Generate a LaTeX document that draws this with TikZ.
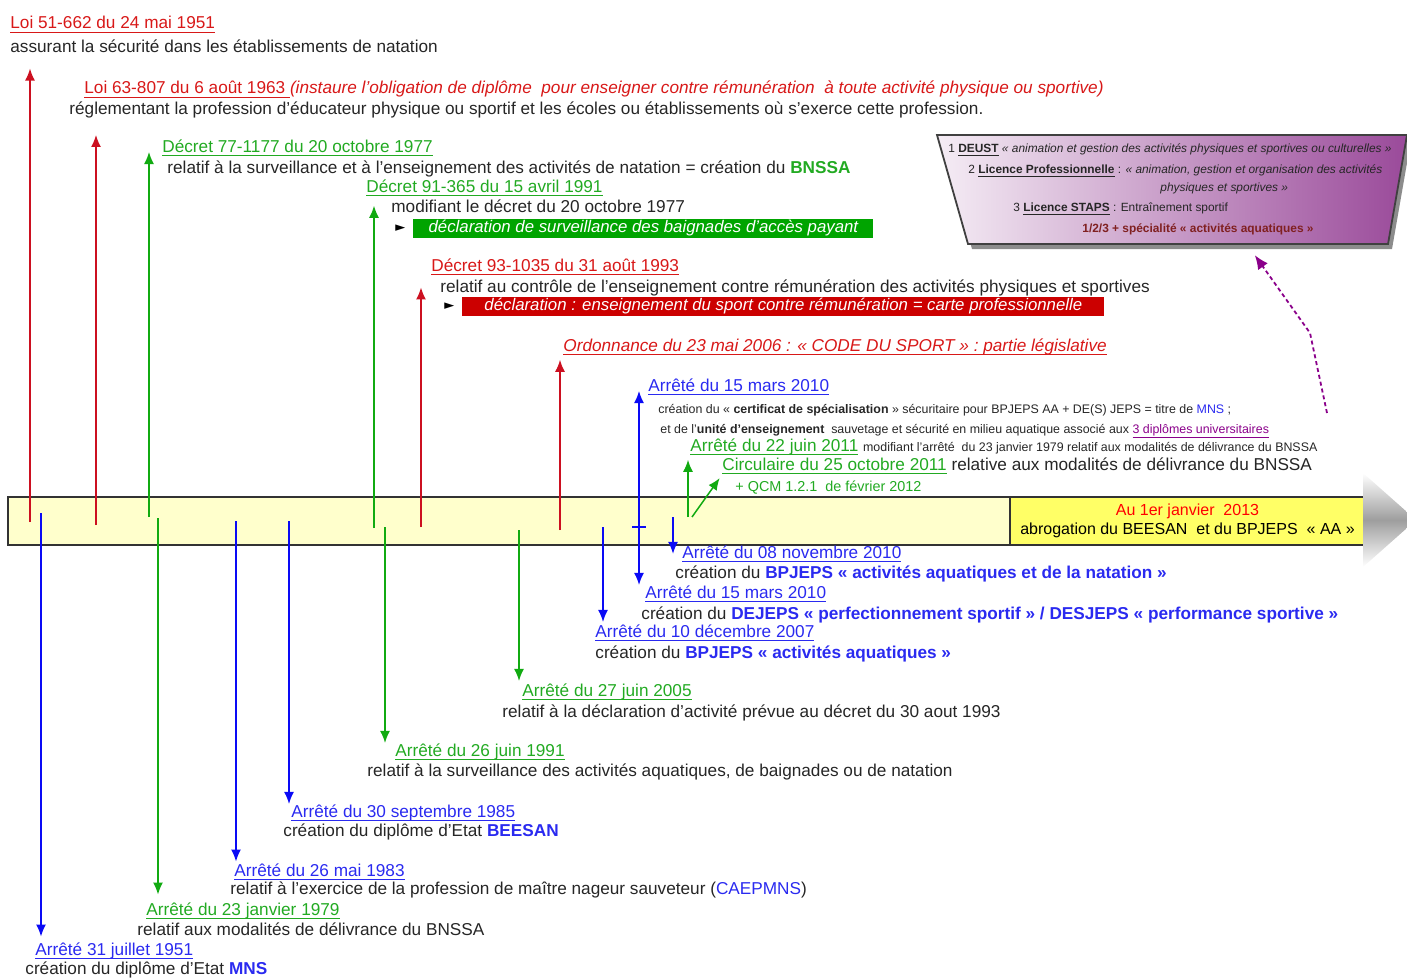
\documentclass[tikz,border=0pt]{standalone}
\usepackage{fontspec}
\setmainfont{Liberation Sans}
\newfontfamily\symfont{DejaVu Sans}
\usetikzlibrary{arrows.meta}
\newcommand{\souligne}[1]{\setbox0\hbox{#1}\leavevmode\rlap{\vrule height -1.5pt depth 2.2pt width \wd0}\box0\relax}
\definecolor{titred}{HTML}{D81818}
\definecolor{arred}{HTML}{CC1020}
\definecolor{titgrn}{HTML}{22AA22}
\definecolor{argrn}{HTML}{11AA11}
\definecolor{titblu}{HTML}{2A2AF0}
\definecolor{arblu}{HTML}{0A0AF5}
\definecolor{boxgrn}{HTML}{00A400}
\definecolor{boxred}{HTML}{CC0000}
\definecolor{barpale}{HTML}{FFFFCC}
\definecolor{baryel}{HTML}{FFFF66}
\definecolor{mauve}{HTML}{9A4A9A}
\definecolor{prune}{HTML}{8A008A}
\definecolor{brique}{HTML}{802020}
\begin{document}
\begin{tikzpicture}[x=0.5pt,y=-0.5pt,
  txt/.style={anchor=base west, inner sep=0pt, font=\fontsize{8.6}{10}\selectfont, text=black!85},
  petit/.style={txt, font=\fontsize{6.2}{7}\selectfont},
  mini/.style={txt, font=\fontsize{5.95}{7}\selectfont},
  tred/.style={txt, text=titred},
  tgrn/.style={txt, text=titgrn},
  tblu/.style={txt, text=titblu},
  tri/.style={anchor=west, inner sep=0pt, font=\symfont\fontsize{6.5}{7}\selectfont},
  flag/.style={anchor=west, inner sep=0pt, minimum height=9.5pt, text=white,
    font=\fontsize{8.4}{10}\selectfont\itshape},
  arr/.style={line width=0.75pt, -{Latex[length=6pt,width=5pt]}},
  upr/.style={arr, arred}, upg/.style={arr, argrn},
  dng/.style={arr, argrn}, dnb/.style={arr, arblu}]
\clip (0,0) rectangle (1407,979);
% timeline
\draw[line width=1pt, draw=black!80, fill=barpale] (8,497) rectangle (1010,545);
\node (abrog) [draw=black!80, line width=1pt, fill=baryel, minimum width=177.5pt,
  minimum height=24pt, inner sep=0pt, align=center, font=\fontsize{8}{9.5}\selectfont]
  at (1187.5,521) {\textcolor{red}{Au 1er janvier~ 2013}\\abrogation du BEESAN~ et du BPJEPS~ « AA »};
\shade[top color=white, bottom color=white, middle color=black!38]
  (1363,473) -- (1416,520) -- (1363,567) -- cycle;
% diplomes universitaires
\fill[black!45] (941,140) -- (1411,140) -- (1392,249) -- (972,249) -- cycle;
\shadedraw[left color=mauve!10, right color=mauve, draw=black!75, line width=0.9pt]
  (937,135) -- (1407,135) -- (1388,244) -- (968,244) -- cycle;
\coordinate (dipl) at (1249,247);
\node (du1) [mini] at (948,152) {1 \souligne{\textbf{DEUST}} \textit{« animation et gestion des activités physiques et sportives ou culturelles »}};
\node (du2) [mini] at (968,173) {2 \souligne{\textbf{Licence Professionnelle}} : \textit{« animation, gestion et organisation des activités}};
\node (du3) [mini] at (1160,191) {\textit{physiques et sportives »}};
\node (du4) [mini] at (1013,211) {3 \souligne{\textbf{Licence STAPS}} : Entraînement sportif};
\node (du5) [mini, text=brique] at (1082,232) {\textbf{1/2/3 + spécialité « activités aquatiques »}};
% textes au-dessus
\node (loi51) [tred] at (10,29) {\souligne{Loi 51-662 du 24 mai 1951}};
\node (loi51d) [txt] at (10,53) {assurant la sécurité dans les établissements de natation};
\node (loi63) [tred] at (84,94) {\souligne{Loi 63-807 du 6 août 1963~}\textit{(instaure l'obligation de diplôme~ pour enseigner contre rémunération~ à toute activité physique ou sportive)}};
\node (loi63d) [txt] at (69,114) {réglementant la profession d'éducateur physique ou sportif et les écoles ou établissements où s'exerce cette profession.};
\node (dec77) [tgrn] at (162,152) {\souligne{Décret 77-1177 du 20 octobre 1977}};
\node (dec77d) [txt] at (167,173) {relatif à la surveillance et à l'enseignement des activités de natation = création du \textcolor{titgrn}{\textbf{BNSSA}}};
\node (dec91) [tgrn] at (366,192) {\souligne{Décret 91-365 du 15 avril 1991}};
\node (dec91d) [txt] at (391,212) {modifiant le décret du 20 octobre 1977};
\node (tri91) [tri] at (395,228) {►};
\node (dec91b) [flag, fill=boxgrn, minimum width=230pt] at (413,228.5) {déclaration de surveillance des baignades d'accès payant};
\node (dec93) [tred] at (431,271) {\souligne{Décret 93-1035 du 31 août 1993}};
\node (dec93d) [txt] at (440,292) {relatif au contrôle de l'enseignement contre rémunération des activités physiques et sportives};
\node (tri93) [tri] at (444,306) {►};
\node (dec93b) [flag, fill=boxred, minimum width=321pt] at (462,306.5) {déclaration : enseignement du sport contre rémunération = carte professionnelle};
\node (ord06) [tred] at (563,351) {\souligne{\itshape Ordonnance du 23 mai 2006 : « CODE DU SPORT » : partie législative}};
\node (arr10a) [tblu] at (648,391) {\souligne{Arrêté du 15 mars 2010}};
\node (arr10ad1) [petit] at (658,413.5) {création du « \textbf{certificat de spécialisation} » sécuritaire pour BPJEPS AA + DE(S) JEPS = titre de \textcolor{titblu}{MNS} ;};
\node (arr10ad2) [petit] at (660,433.5) {et de l'\textbf{unité d'enseignement}~ sauvetage et sécurité en milieu aquatique associé aux \textcolor{prune}{\souligne{3 diplômes universitaires}}};
\node (arr11) [tgrn] at (690,451) {\souligne{Arrêté du 22 juin 2011} {\fontsize{6.2}{7}\selectfont\color{black!85}modifiant l'arrêté~ du 23 janvier 1979 relatif aux modalités de délivrance du BNSSA}};
\node (circ11) [tgrn] at (722,470) {\souligne{Circulaire du 25 octobre 2011} \textcolor{black!85}{relative aux modalités de délivrance du BNSSA}};
\node (qcm12) [tgrn, font=\fontsize{7.2}{8}\selectfont] at (735,491) {+ QCM 1.2.1~ de février 2012};
% textes au-dessous
\node (arr10n) [tblu] at (682,558) {\souligne{Arrêté du 08 novembre 2010}};
\node (arr10nd) [txt] at (675,578) {création du \textcolor{titblu}{\textbf{BPJEPS « activités aquatiques et de la natation »}}};
\node (arr10b) [tblu] at (645,598) {\souligne{Arrêté du 15 mars 2010}};
\node (arr10bd) [txt] at (641,619) {création du \textcolor{titblu}{\textbf{DEJEPS « perfectionnement sportif » / DESJEPS « performance sportive »}}};
\node (arr07) [tblu] at (595,637) {\souligne{Arrêté du 10 décembre 2007}};
\node (arr07d) [txt] at (595,658) {création du \textcolor{titblu}{\textbf{BPJEPS « activités aquatiques »}}};
\node (arr05) [tgrn] at (522,696) {\souligne{Arrêté du 27 juin 2005}};
\node (arr05d) [txt] at (502,717) {relatif à la déclaration d'activité prévue au décret du 30 aout 1993};
\node (arr91) [tgrn] at (395,756) {\souligne{Arrêté du 26 juin 1991}};
\node (arr91d) [txt] at (367,776) {relatif à la surveillance des activités aquatiques, de baignades ou de natation};
\node (arr85) [tblu] at (291,817) {\souligne{Arrêté du 30 septembre 1985}};
\node (arr85d) [txt] at (283,836) {création du diplôme d'Etat \textcolor{titblu}{\textbf{BEESAN}}};
\node (arr83) [tblu] at (234,876) {\souligne{Arrêté du 26 mai 1983}};
\node (arr83d) [txt] at (230,894) {relatif à l'exercice de la profession de maître nageur sauveteur (\textcolor{titblu}{CAEPMNS})};
\node (arr79) [tgrn] at (146,915) {\souligne{Arrêté du 23 janvier 1979}};
\node (arr79d) [txt] at (137,935) {relatif aux modalités de délivrance du BNSSA};
\node (arr51) [tblu] at (35,955) {\souligne{Arrêté 31 juillet 1951}};
\node (arr51d) [txt] at (25,974) {création du diplôme d'Etat \textcolor{titblu}{\textbf{MNS}}};
% points sur la frise
\coordinate (u51) at (30,522);
\coordinate (u63) at (96,525);
\coordinate (u77) at (149,517);
\coordinate (u91) at (374,528);
\coordinate (u93) at (421,527);
\coordinate (u06) at (560,530);
\coordinate (m10) at (639,527);
\coordinate (u11) at (688,517);
\coordinate (uc11) at (692,517);
\coordinate (d51) at (41,513);
\coordinate (d79) at (158,518);
\coordinate (d83) at (236,521);
\coordinate (d85) at (289,521);
\coordinate (d91) at (385,527);
\coordinate (d05) at (519,530);
\coordinate (d07) at (603,527);
\coordinate (d10) at (673,517);
\coordinate (univ) at (1327,413);
% fleches vers le haut
\draw[upr, shorten >=7.5pt] (u51) -- (u51 |- loi51d.south);
\draw[upr, shorten >=8.5pt] (u63) -- (u63 |- loi63d.south);
\draw[upg] (u77) -- (u77 |- dec77.base);
\draw[upg] (u91) -- (u91 |- dec91d.west);
\draw[upr] (u93) -- (u93 |- dec93d.west);
\draw[upr, shorten >=2pt] (u06) -- (u06 |- ord06.south);
\draw[dnb, {Latex[length=6pt,width=5pt]}-{Latex[length=6pt,width=5pt]}] (m10 |- arr10a.base) -- (m10 |- arr10b.north);
\draw[arblu, line width=0.75pt] (m10) +(-7,0) -- +(7,0);
\draw[upg, shorten >=2pt] (u11) -- (u11 |- arr11.south);
\draw[upg, shorten >=2pt] (uc11) -- (circ11.south west);
% fleches vers le bas
\draw[dnb, shorten >=2.7pt] (d51) -- (d51 |- arr51.north);
\draw[dng, shorten >=3.7pt] (d79) -- (d79 |- arr79.north);
\draw[dnb, shorten >=0.7pt] (d83) -- (d83 |- arr83.north);
\draw[dnb] (d85) -- (d85 |- arr85.north);
\draw[dng] (d91) -- (d91 |- arr91.north);
\draw[dng, shorten >=1pt] (d05) -- (d05 |- arr05.north);
\draw[dnb, shorten >=1pt] (d07) -- (d07 |- arr07.north);
\draw[dnb] (d10) -- (d10 |- arr10n.west);
% vers les diplomes
\draw[prune, line width=0.9pt, dash pattern=on 2pt off 1.5pt, -{Latex[length=7pt,width=6pt]}, shorten >=5pt]
  (univ) -- ++(-17,-80) -- (dipl);
\end{tikzpicture}
\end{document}
